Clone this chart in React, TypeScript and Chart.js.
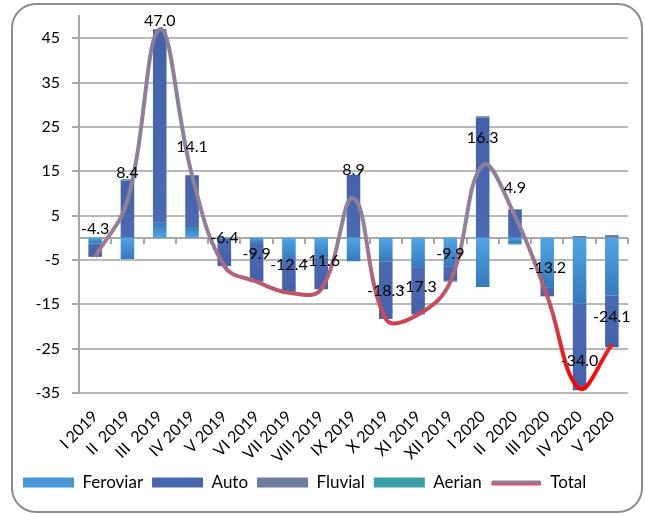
import React, { useEffect, useRef } from "react";
import { Chart, registerables } from "chart.js";

Chart.register(...registerables);

const categories = [
  "I 2019", "II  2019", "III  2019", "IV 2019", "V 2019", "VI 2019", "VII 2019", "VIII 2019",
  "IX 2019", "X 2019", "XI 2019", "XII 2019", "I 2020", "II  2020", "III 2020", "IV 2020", "V 2020",
];
const feroviar = [-1.3, -4.8, 3.4, 2.4, -0.2, -1.2, -4.9, -4.5, -5.3, -5.3, -6.8, -6.4, -11.1, -1.2, -11.3, -14.8, -13.0];
const auto = [-3.0, 12.9, 43.6, 11.7, -6.2, -8.7, -7.5, -7.1, 14.2, -13.0, -10.5, -3.3, 27.1, 6.4, -1.9, -19.6, -11.7];
const fluvial = [0, 0, 0, 0, 0, 0, 0, 0, 0, 0, 0, 0, 0.3, 0, 0, 0.4, 0.6];
const aerian = [0, 0.3, 0, 0, 0, 0, 0, 0, 0, 0, 0, -0.2, 0, -0.3, 0, 0, 0];
const total = [-4.3, 8.4, 47.0, 14.1, -6.4, -9.9, -12.4, -11.6, 8.9, -18.3, -17.3, -9.9, 16.3, 4.9, -13.2, -34.0, -24.1];
const yTicks = [-35, -25, -15, -5, 5, 15, 25, 35, 45];
const Y_MIN = -35;
const Y_MAX = 50;

const FONT = "Lato, 'Open Sans', sans-serif";
const barSeries = [feroviar, auto, fluvial, aerian];

function barFill(near: string, far: string) {
  return (c: any) => {
    const chart = c.chart;
    if (!chart.chartArea || c.type !== "data") return near;
    const ys = chart.scales.y;
    const di = c.datasetIndex;
    const i = c.dataIndex;
    const v = barSeries[di][i];
    let start = 0;
    for (let k = 0; k < di; k++) {
      const pv = barSeries[k][i];
      if ((pv >= 0) === (v >= 0)) start += pv;
    }
    const y0 = ys.getPixelForValue(start);
    let y1 = ys.getPixelForValue(start + v);
    if (Math.abs(y1 - y0) < 1) y1 = y0 + 1;
    const g = chart.ctx.createLinearGradient(0, y0, 0, y1);
    g.addColorStop(0, near);
    g.addColorStop(1, far);
    return g;
  };
}

function lineColor(c: any) {
  const chart = c.chart;
  const { chartArea, ctx, scales } = chart;
  if (!chartArea) return "#8C8098";
  const ys = scales.y;
  const g = ctx.createLinearGradient(0, ys.getPixelForValue(Y_MAX), 0, ys.getPixelForValue(Y_MIN));
  const stop = (v: number, col: string) => g.addColorStop((Y_MAX - v) / (Y_MAX - Y_MIN), col);
  stop(50, "#8A7E98");
  stop(0, "#958098");
  stop(-6, "#A86C86");
  stop(-12, "#BE5569");
  stop(-18, "#CD4557");
  stop(-24, "#EC2429");
  stop(-33, "#FF0000");
  stop(-35, "#FF0000");
  return g;
}

const framePlugin = {
  id: "frame",
  beforeDraw(chart: any) {
    const ctx = chart.ctx;
    ctx.save();
    ctx.fillStyle = "#ffffff";
    ctx.fillRect(0, 0, chart.width, chart.height);
    ctx.strokeStyle = "#8E8E8E";
    ctx.lineWidth = 2;
    ctx.beginPath();
    (ctx as any).roundRect(12, 4, 630, 508, 24);
    ctx.stroke();
    ctx.restore();
  },
  beforeDatasetsDraw(chart: any) {
    const { ctx, chartArea, scales } = chart;
    const ys = scales.y;
    const y0 = Math.round(ys.getPixelForValue(0));
    ctx.save();
    ctx.strokeStyle = "#A8A8A8";
    ctx.lineWidth = 2;
    ctx.beginPath();
    // zero axis with category tick marks
    ctx.moveTo(chartArea.left, y0);
    ctx.lineTo(chartArea.right, y0);
    const n = categories.length;
    const step = (chartArea.right - chartArea.left) / n;
    for (let k = 1; k <= n; k++) {
      const x = Math.round(chartArea.left + step * k);
      ctx.moveTo(x, y0);
      ctx.lineTo(x, y0 + 6);
    }
    // short outward tick marks on value axis
    yTicks.forEach((v) => {
      const y = Math.round(ys.getPixelForValue(v));
      ctx.moveTo(chartArea.left - 7, y);
      ctx.lineTo(chartArea.left, y);
    });
    ctx.stroke();
    ctx.restore();
  },
  afterDatasetsDraw(chart: any) {
    const { ctx, chartArea } = chart;
    const idx = chart.data.datasets.findIndex((d: any) => d.type === "line");
    const meta = chart.getDatasetMeta(idx);
    ctx.save();
    ctx.font = `16px ${FONT}`;
    ctx.fillStyle = "#000000";
    ctx.textAlign = "center";
    ctx.textBaseline = "middle";
    meta.data.forEach((pt: any, i: number) => {
      const y = Math.max(pt.y - 28, chartArea.top + 5);
      ctx.fillText(total[i].toFixed(1), pt.x, y);
    });
    ctx.restore();
  },
  afterDraw(chart: any) {
    const legend = chart.legend;
    if (!legend || !legend.legendHitBoxes || !legend.legendHitBoxes[4]) return;
    const hb = legend.legendHitBoxes[4];
    const boxW = 51;
    const cy = hb.top + hb.height / 2;
    const ctx = chart.ctx;
    ctx.save();
    ctx.lineCap = "round";
    ctx.lineWidth = 3;
    ctx.strokeStyle = "#E0505C";
    ctx.beginPath();
    ctx.moveTo(hb.left + 2, cy + 1.5);
    ctx.lineTo(hb.left + boxW - 2, cy + 1.5);
    ctx.stroke();
    ctx.strokeStyle = "#8C8098";
    ctx.beginPath();
    ctx.moveTo(hb.left + 2, cy - 0.5);
    ctx.lineTo(hb.left + boxW - 2, cy - 0.5);
    ctx.stroke();
    ctx.restore();
  },
};

export default function App() {
  const ref = useRef<HTMLCanvasElement | null>(null);
  useEffect(() => {
    if (!ref.current) return;
    const chart = new Chart(ref.current, {
      type: "bar",
      data: {
        labels: categories,
        datasets: [
          { type: "bar", label: "Feroviar", data: feroviar, backgroundColor: barFill("#50A5E5", "#3479BC"), order: 1 },
          { type: "bar", label: "Auto", data: auto, backgroundColor: barFill("#4A6AB2", "#4462AA"), order: 1 },
          { type: "bar", label: "Fluvial", data: fluvial, backgroundColor: barFill("#7888A8", "#5E6E90"), order: 1 },
          { type: "bar", label: "Aerian", data: aerian, backgroundColor: barFill("#42AAB5", "#2E8A94"), order: 1 },
          {
            type: "line",
            label: "Total",
            data: total,
            borderColor: lineColor,
            borderWidth: 4,
            pointRadius: 0,
            tension: 0.4,
            fill: false,
            order: 0,
            stack: "total",
            clip: false,
          } as any,
        ],
      },
      options: {
        responsive: false,
        animation: false,
        devicePixelRatio: 1,
        layout: { padding: { left: 14, right: 17, top: 16, bottom: 14 } },
        datasets: { bar: { barPercentage: 0.42, categoryPercentage: 1.0 } },
        plugins: {
          title: { display: false },
          tooltip: { enabled: false },
          legend: {
            position: "bottom",
            align: "start",
            labels: {
              usePointStyle: true,
              pointStyleWidth: 51,
              boxHeight: 10,
              padding: 9,
              color: "#000000",
              font: { family: FONT, size: 17 },
              generateLabels: () => [
                { text: "Feroviar", fillStyle: "#4596D6", strokeStyle: "#4596D6", lineWidth: 0, pointStyle: "rect", datasetIndex: 0, hidden: false, fontColor: "#000" },
                { text: "Auto", fillStyle: "#4866AE", strokeStyle: "#4866AE", lineWidth: 0, pointStyle: "rect", datasetIndex: 1, hidden: false, fontColor: "#000" },
                { text: "Fluvial", fillStyle: "#6E7EA0", strokeStyle: "#6E7EA0", lineWidth: 0, pointStyle: "rect", datasetIndex: 2, hidden: false, fontColor: "#000" },
                { text: "Aerian", fillStyle: "#3A9EA8", strokeStyle: "#3A9EA8", lineWidth: 0, pointStyle: "rect", datasetIndex: 3, hidden: false, fontColor: "#000" },
                { text: "Total", fillStyle: "rgba(0,0,0,0)", strokeStyle: "rgba(0,0,0,0)", lineWidth: 4, pointStyle: "line", datasetIndex: 4, hidden: false, fontColor: "#000" },
              ] as any,
            },
          },
        },
        scales: {
          x: {
            stacked: true,
            grid: { display: false, drawTicks: false },
            border: { display: false },
            ticks: {
              minRotation: 45,
              maxRotation: 45,
              autoSkip: false,
              padding: 14,
              color: "#000000",
              font: { family: FONT, size: 16 },
            },
            afterFit: (s: any) => { s.height = 72; },
          },
          y: {
            stacked: true,
            min: Y_MIN,
            max: Y_MAX,
            afterBuildTicks: (s: any) => { s.ticks = yTicks.map((v) => ({ value: v })); },
            grid: { color: "#B8B8B8", lineWidth: 2, tickLength: 15, drawTicks: true, tickColor: "rgba(0,0,0,0)" },
            border: { display: true, color: "#A8A8A8", width: 2 },
            ticks: {
              padding: 4,
              color: "#000000",
              font: { family: FONT, size: 16 },
            },
            afterFit: (s: any) => { s.width = 65; },
          },
        },
      },
      plugins: [framePlugin],
    });
    return () => chart.destroy();
  }, []);
  return (
    <div style={{ position: "fixed", left: 0, top: 0, width: 645, height: 515, background: "#fff" }}>
      <canvas ref={ref} width={645} height={515} style={{ display: "block", width: 645, height: 515 }} />
    </div>
  );
}
